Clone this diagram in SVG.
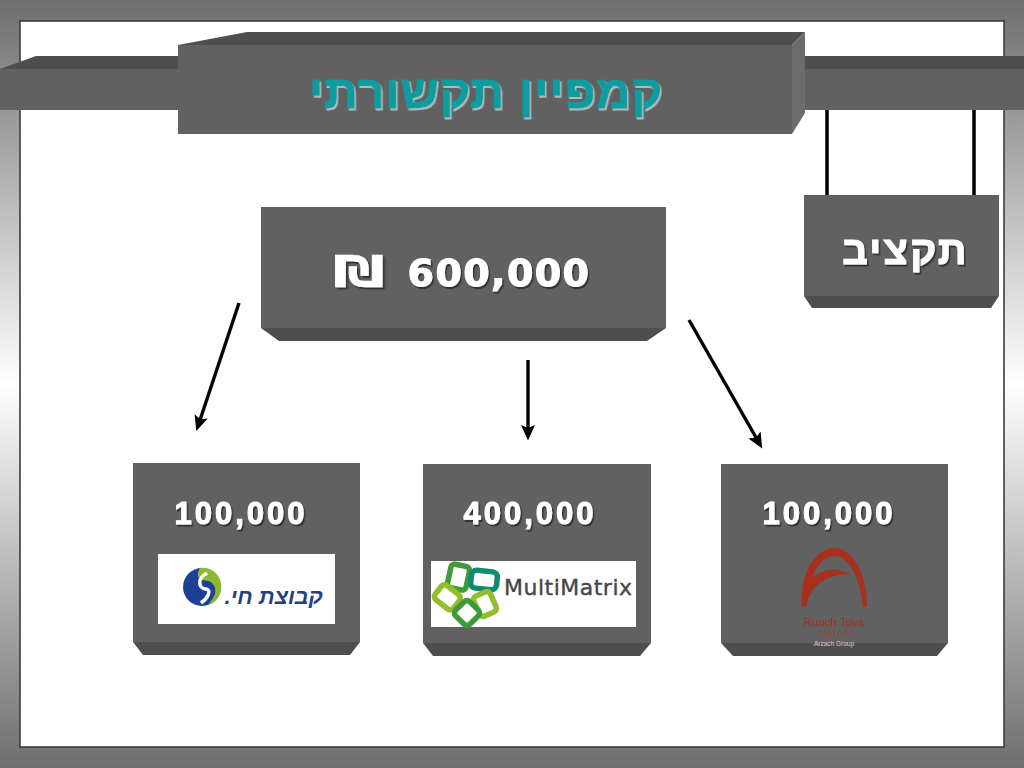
<svg xmlns="http://www.w3.org/2000/svg" width="1024" height="768" viewBox="0 0 1024 768">
<defs>
<linearGradient id="bg" x1="0" y1="0" x2="0" y2="1"><stop offset="0" stop-color="#6e6e6e"/><stop offset="0.5" stop-color="#ffffff"/><stop offset="1" stop-color="#6e6e6e"/></linearGradient>
<filter id="sh" x="-10%" y="-20%" width="120%" height="140%"><feDropShadow dx="1.5" dy="2" stdDeviation="0.6" flood-color="#2e2e2e" flood-opacity="0.9"/></filter>
<filter id="shT" x="-10%" y="-20%" width="120%" height="140%"><feDropShadow dx="1.5" dy="2" stdDeviation="0.4" flood-color="#b4c4c4" flood-opacity="0.9"/></filter>
<marker id="arrow" markerWidth="16" markerHeight="15" refX="7" refY="7" orient="auto" markerUnits="userSpaceOnUse" viewBox="0 0 16 14"><path d="M0 0L15.500 7L0 14L3 7Z" fill="#000"/></marker>
</defs>
<style>
.face{fill:#616161}
.dark{fill:#4e4e4e}
.side{fill:#6c6c6c}
text{font-family:"Liberation Sans","DejaVu Sans",sans-serif;font-weight:bold}
.small{fill:#fff;stroke:#fff;stroke-width:1;filter:url(#sh);text-anchor:middle;font-size:31px;letter-spacing:3px;font-family:"Liberation Sans",sans-serif}
.wire{stroke:#000;stroke-width:3.5;fill:none}
.conn{stroke:#000;stroke-width:3.4;fill:none;marker-end:url(#arrow)}
</style>
<rect id="background" width="1024" height="768" fill="url(#bg)"/>
<rect id="panel" x="20" y="21" width="984" height="726" fill="#fff" stroke="#3c3c3c" stroke-width="1.6"/>
<g id="beam">
<path class="dark" d="M0 69L36 56H1024V69Z"/>
<rect class="face" x="0" y="69" width="1024" height="41"/>
</g>
<g id="connectors">
<path class="wire" d="M827 110V195M974 110V195"/>
<path class="conn" d="M239 303L199 423"/>
<path class="conn" d="M528 360V432"/>
<path class="conn" d="M689 320L758 441"/>
</g>
<g id="title">
<path class="dark" d="M178 45L247 32H805L792 45Z"/>
<path class="side" d="M792 45L805 32V113L792 134Z"/>
<rect class="face" x="178" y="45" width="614" height="89"/>
<text x="486" y="108" text-anchor="middle" direction="rtl" font-size="47" letter-spacing="1" fill="#0c9c9f" stroke="#0c9c9f" stroke-width="1" filter="url(#shT)">קמפיין תקשורתי</text>
</g>
<g id="budget">
<path class="dark" d="M804 296H999L991 308H812Z"/>
<rect class="face" x="804" y="195" width="195" height="101"/>
<text x="905.500" y="264" text-anchor="middle" direction="rtl" font-size="40" letter-spacing="2.200" fill="#fff" stroke="#fff" stroke-width="1" filter="url(#sh)">תקציב</text>
</g>
<g id="total">
<path class="dark" d="M261 328H666L647 341H279Z"/>
<rect class="face" x="261" y="207" width="405" height="121"/>
<text transform="translate(359 286) scale(1.42 1.08)" text-anchor="middle" font-size="40" fill="#fff" stroke="#fff" stroke-width="0.6" filter="url(#sh)" style="font-family:'DejaVu Sans',sans-serif">₪</text>
<text x="499" y="286" text-anchor="middle" font-size="38" letter-spacing="1.400" fill="#fff" stroke="#fff" stroke-width="1" filter="url(#sh)" style="font-family:'DejaVu Sans',sans-serif">600,000</text>
</g>
<g id="node-left">
<path class="dark" d="M133 642H360L350 655H143Z"/>
<rect class="face" x="133" y="463" width="227" height="179"/>
<text class="small" x="241" y="524">100,000</text>
<rect x="158" y="554" width="177" height="70" fill="#fff"/>
<circle cx="202" cy="587" r="19" fill="#1d3f96"/>
<path d="M200 568A19 19 0 0 1 208 605C214 598 219 590 212 583C208 579 202 582 199 578C197 575 198 571 200 568Z" fill="#8fb82e"/>
<path d="M207 573C195 580 200 589 206 589C212 590 208 598 201 603" stroke="#fff" stroke-width="3.500" fill="none"/>
<text x="323" y="604" text-anchor="start" direction="rtl" font-size="22" fill="#23407f" style="font-style:italic">קבוצת חי.</text>
</g>
<g id="node-middle">
<path class="dark" d="M423 643H651L640 656H433Z"/>
<rect class="face" x="423" y="464" width="228" height="179"/>
<text class="small" x="530" y="524">400,000</text>
<rect x="431" y="561" width="205" height="66" fill="#fff"/>
<g fill="#fff" stroke-width="5.500" stroke-linejoin="round">
<rect x="449" y="565" width="19" height="24" rx="4" transform="rotate(12 458 577)" stroke="#3f9a3a"/>
<rect x="471" y="571" width="26" height="18" rx="5" transform="rotate(6 484 580)" stroke="#118a72"/>
<rect x="436" y="588" width="23" height="18" rx="4" transform="rotate(38 447 597)" stroke="#92bd2c"/>
<rect x="476" y="593" width="18" height="22" rx="4" transform="rotate(-24 485 604)" stroke="#92bd2c"/>
<rect x="457" y="603" width="20" height="20" rx="4" transform="rotate(45 467 613)" stroke="#3f9a3a"/>
</g>
<text x="504" y="595" font-size="22" letter-spacing="0.500" fill="#474747" style="font-weight:normal;font-family:'DejaVu Sans',sans-serif" stroke="#474747" stroke-width="0.4">MultiMatrix</text>
</g>
<g id="node-right">
<path class="dark" d="M721 643H948L937 656H733Z"/>
<rect class="face" x="721" y="464" width="227" height="179"/>
<text class="small" x="829" y="524">100,000</text>
<path d="M802 607C799 572 816 548 835 548C853 548 867 575 867 607L863 607C861 580 849 556 835 556C826 556 817 563 813 577C821 570 838 566 851 575C838 573 822 578 813 590C809 596 807 601 806 607Z" fill="#a8301f"/>
<text x="834" y="626" text-anchor="middle" font-size="11.500" fill="#a8301f" style="font-weight:normal">Ruach Tova</text>
<text x="834" y="636" text-anchor="middle" font-size="8" fill="#b03a2a" style="font-weight:normal">רוח טובה</text>
<text x="834" y="646" text-anchor="middle" font-size="6.500" fill="#e8c8c0" style="font-weight:normal">Arzach Group</text>
</g>
</svg>
